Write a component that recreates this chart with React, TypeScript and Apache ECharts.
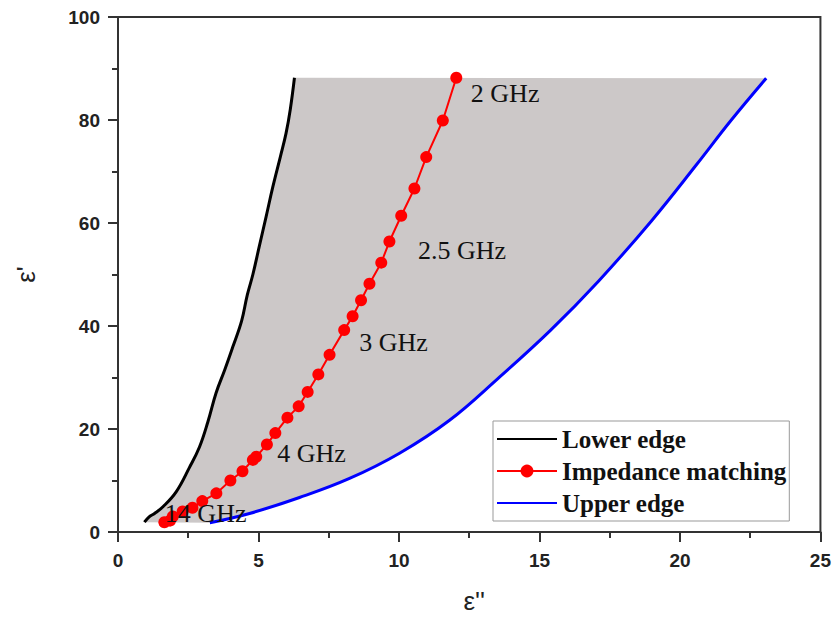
import React, { useEffect, useRef } from "react";
import * as echarts from "echarts";

// ε'' (x) , ε' (y)
const lowerEdge: number[][] = [
  [0.94, 1.9], [1.1, 2.9], [1.3, 3.6], [1.6, 4.9], [2.07, 7.8], [2.54, 12.5],
  [2.9, 16.5], [3.2, 21.4], [3.49, 27.0], [3.8, 31.5], [4.09, 36.0], [4.4, 41.0],
  [4.6, 46.0], [4.8, 50.0], [5.03, 55.5], [5.27, 61.2], [5.51, 67.0], [5.78, 72.9],
  [5.98, 77.4], [6.13, 82.0], [6.28, 88.2],
];

const impedance: number[][] = [
  [1.65, 1.9], [1.85, 2.2], [1.95, 3.0], [2.3, 4.0], [2.65, 4.7], [3.0, 6.0],
  [3.5, 7.5], [4.0, 10.0], [4.43, 11.8], [4.8, 14.0], [4.92, 14.6], [5.3, 17.0],
  [5.6, 19.2], [6.03, 22.2], [6.43, 24.4], [6.75, 27.2], [7.13, 30.6], [7.53, 34.4],
  [8.05, 39.2], [8.35, 41.9], [8.65, 45.0], [8.95, 48.2], [9.37, 52.3], [9.66, 56.4],
  [10.08, 61.4], [10.55, 66.7], [10.97, 72.8], [11.56, 79.9], [12.04, 88.2],
];

const upperEdge: number[][] = [
  [3.27, 1.8], [4.68, 3.6], [6.46, 6.7], [8.24, 10.4], [10.02, 15.3],
  [11.8, 21.7], [13.5, 29.7], [15.4, 39.2], [17.1, 48.7], [19.0, 60.5],
  [20.6, 71.4], [21.8, 79.8], [23.07, 88.1],
];

const freqLabels: string[] = ["2 GHz", "2.5 GHz", "3 GHz", "4 GHz", "14 GHz"];
const freqLabelPos: number[][] = [
  [12.54, 85.2], [10.66, 54.6], [8.57, 36.7], [5.65, 15.3], [1.65, 3.5],
];

const xTicks = { min: 0, max: 25, interval: 5 };
const yTicks = { min: 0, max: 100, interval: 20 };

const App: React.FC = () => {
  const ref = useRef<HTMLDivElement>(null);

  useEffect(() => {
    if (!ref.current) return;
    const chart = echarts.init(ref.current, undefined, { renderer: "svg" });

    const region: number[][] = [
      ...lowerEdge,
      ...[...upperEdge].reverse(),
    ];

    const axisLabelStyle = {
      fontFamily: "Liberation Sans, Arial, sans-serif",
      fontWeight: "bold" as const,
      fontSize: 19,
      color: "#222",
    };

    chart.setOption({
      animation: false,
      backgroundColor: "#ffffff",
      grid: {
        left: 118,
        right: 13,
        top: 17,
        bottom: 91,
        show: true,
        borderColor: "#333",
        borderWidth: 2,
        backgroundColor: "transparent",
      },
      legend: {
        orient: "vertical",
        left: 493,
        top: 421,
        data: [
          { name: "Lower edge", itemStyle: { opacity: 0 } },
          { name: "Impedance matching" },
          { name: "Upper edge", itemStyle: { opacity: 0 } },
        ],
        itemWidth: 60,
        itemHeight: 16,
        itemGap: 6,
        padding: [5, 3, 5, 3],
        borderColor: "#999",
        borderWidth: 1,
        backgroundColor: "#fff",
        textStyle: {
          fontFamily: "Liberation Serif, Times New Roman, serif",
          fontWeight: "bold",
          fontSize: 25,
          lineHeight: 26,
          color: "#111",
        },
      },
      xAxis: {
        type: "value",
        min: xTicks.min,
        max: xTicks.max,
        interval: xTicks.interval,
        name: "ε''",
        nameLocation: "middle",
        nameGap: 56,
        nameTextStyle: {
          fontFamily: "Liberation Sans, Arial, sans-serif",
          fontSize: 26,
          color: "#222",
          padding: [0, 0, 0, 10],
        },
        axisLine: { lineStyle: { color: "#333", width: 2 } },
        axisTick: { show: true, length: 10, lineStyle: { color: "#333", width: 2 } },
        minorTick: { show: true, splitNumber: 2, length: 6, lineStyle: { color: "#333", width: 2 } },
        splitLine: { show: false },
        axisLabel: { ...axisLabelStyle, margin: 19 },
      },
      yAxis: {
        type: "value",
        min: yTicks.min,
        max: yTicks.max,
        interval: yTicks.interval,
        name: "ε'",
        nameLocation: "middle",
        nameGap: 79,
        nameRotate: 90,
        nameTextStyle: {
          fontFamily: "Liberation Sans, Arial, sans-serif",
          fontSize: 26,
          color: "#222",
        },
        axisLine: { lineStyle: { color: "#333", width: 2 } },
        axisTick: { show: true, length: 10, lineStyle: { color: "#333", width: 2 } },
        minorTick: { show: true, splitNumber: 2, length: 6, lineStyle: { color: "#333", width: 2 } },
        splitLine: { show: false },
        axisLabel: { ...axisLabelStyle, margin: 18 },
      },
      series: [
        {
          type: "custom",
          name: "region",
          silent: true,
          z: 1,
          data: [[0, 0]],
          renderItem: (_params: any, api: any) => ({
            type: "polygon",
            shape: { points: region.map((p) => api.coord(p)), smooth: 0 },
            style: { fill: "#ccc8c8", stroke: "none" },
          }),
        },
        {
          type: "line",
          name: "Lower edge",
          data: lowerEdge,
          showSymbol: false,
          symbol: "none",
          smooth: 0.4,
          z: 3,
          lineStyle: { color: "#000", width: 3 },
          itemStyle: { color: "#000" },
        },
        {
          type: "line",
          name: "Impedance matching",
          data: impedance,
          symbol: "circle",
          symbolSize: 12,
          z: 4,
          lineStyle: { color: "#ff0000", width: 2 },
          itemStyle: { color: "#ff0000" },
        },
        {
          type: "line",
          name: "Upper edge",
          data: upperEdge,
          showSymbol: false,
          symbol: "none",
          smooth: 0.4,
          z: 3,
          lineStyle: { color: "#0000ff", width: 3 },
          itemStyle: { color: "#0000ff" },
        },
        {
          type: "scatter",
          name: "labels",
          silent: true,
          z: 5,
          symbolSize: 1,
          itemStyle: { color: "rgba(0,0,0,0)" },
          data: freqLabelPos.map((p, i) => ({ value: p, name: freqLabels[i] })),
          label: {
            show: true,
            position: "right",
            distance: 0,
            formatter: (p: any) => p.name,
            fontFamily: "Liberation Serif, Times New Roman, serif",
            fontSize: 26,
            color: "#111",
            opacity: 1,
          },
        },
      ],
    });

    return () => {
      chart.dispose();
    };
  }, []);

  return (
    <div
      ref={ref}
      style={{ position: "fixed", left: 0, top: 0, width: 834, height: 623, background: "#fff" }}
    />
  );
};

export default App;
